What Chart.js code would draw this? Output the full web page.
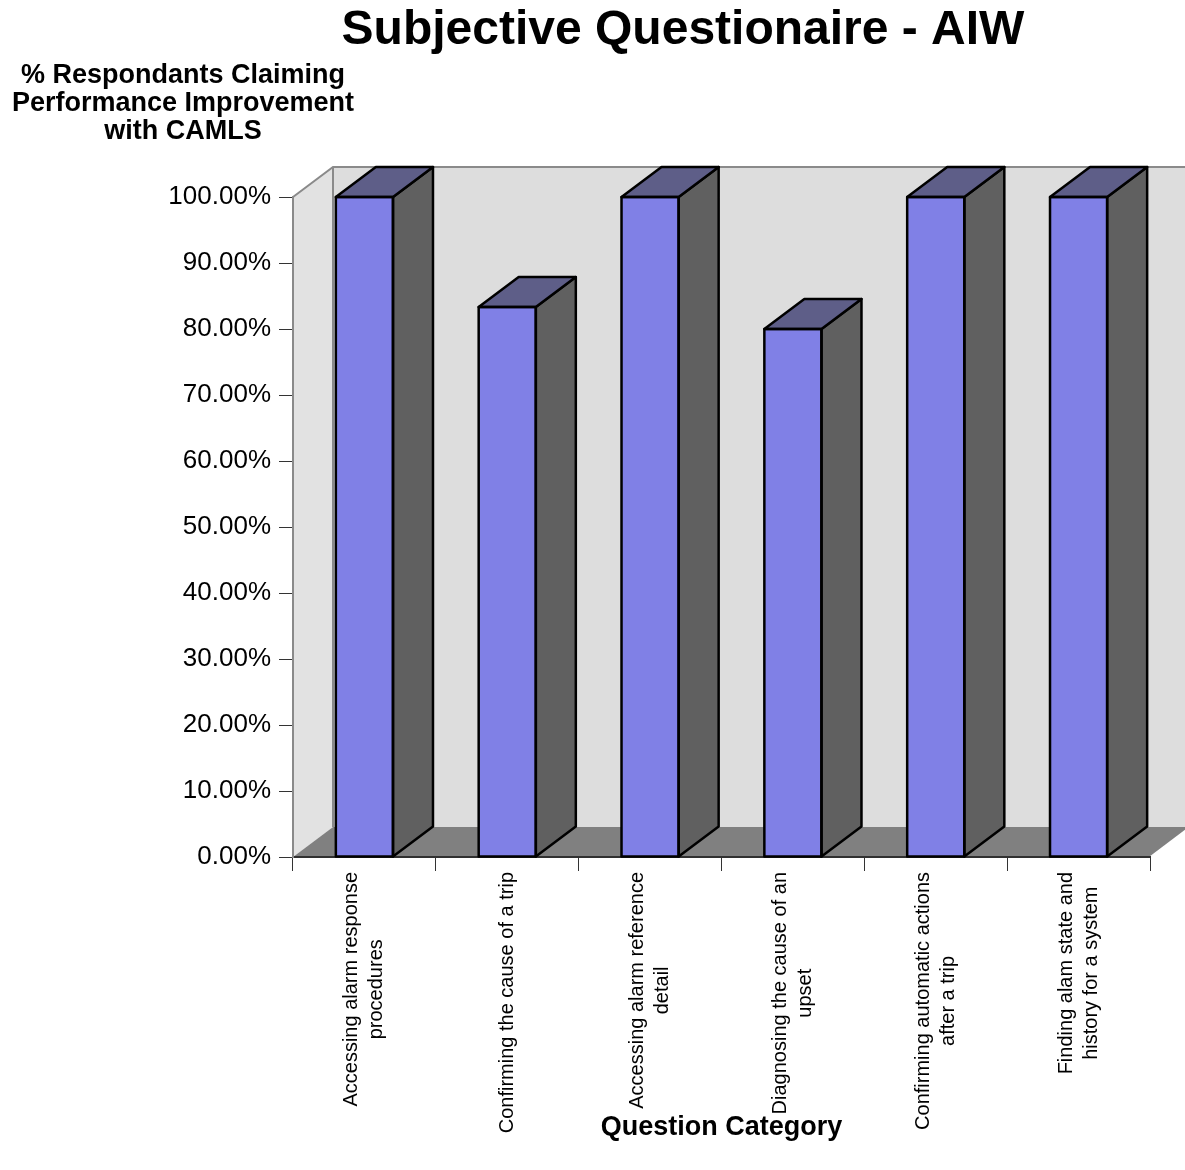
<!DOCTYPE html>
<html>
<head>
<meta charset="utf-8">
<title>Subjective Questionaire - AIW</title>
<script src="https://cdn.jsdelivr.net/npm/chart.js@4.4.1/dist/chart.umd.min.js"></script>
<style>
  body { margin: 0; background: #ffffff; }
</style>
</head>
<body>
<canvas id="myChart" width="1185" height="1170"></canvas>
<script>
var categories = [
    ['Accessing alarm response', 'procedures'],
    ['Confirming the cause of a trip'],
    ['Accessing alarm reference', 'detail'],
    ['Diagnosing the cause of an', 'upset'],
    ['Confirming automatic actions', 'after a trip'],
    ['Finding alam state and', 'history for a system']
];
var percent_improved = [100, 83.33, 100, 80, 100, 100];
var y_tick_labels = ['0.00%', '10.00%', '20.00%', '30.00%', '40.00%', '50.00%',
                     '60.00%', '70.00%', '80.00%', '90.00%', '100.00%'];
var chart_title = 'Subjective Questionaire - AIW';
var y_title = ['% Respondants Claiming', 'Performance Improvement', 'with CAMLS'];
var x_title = 'Question Category';

var font_family = "'Liberation Sans', Arial, sans-serif";
var depth_x = 40;
var depth_y = -30;

function poly(ctx, pts, fill, stroke, lw) {
    ctx.beginPath();
    ctx.moveTo(pts[0][0], pts[0][1]);
    for (var i = 1; i < pts.length; i++) ctx.lineTo(pts[i][0], pts[i][1]);
    ctx.closePath();
    if (fill) { ctx.fillStyle = fill; ctx.fill(); }
    if (stroke) { ctx.strokeStyle = stroke; ctx.lineWidth = lw || 1; ctx.stroke(); }
}

// back wall, side wall and floor behind the bars
var walls = {
    id: 'walls',
    beforeDraw: function(chart) {
        var ctx = chart.ctx;
        var a = chart.chartArea;
        ctx.save();
        ctx.fillStyle = '#dddddd';
        ctx.fillRect(a.left + depth_x, a.top + depth_y, a.right - a.left + 10, a.bottom - a.top);
        poly(ctx, [[a.left, a.top], [a.left + depth_x, a.top + depth_y],
                   [a.left + depth_x, a.bottom + depth_y], [a.left, a.bottom]], '#e2e2e2');
        poly(ctx, [[a.left, a.bottom], [a.left + depth_x, a.bottom + depth_y],
                   [a.right + depth_x, a.bottom + depth_y], [a.right, a.bottom]], '#808080');
        ctx.strokeStyle = '#8a8a8a';
        ctx.lineWidth = 2;
        ctx.beginPath();
        ctx.moveTo(a.left, a.top);
        ctx.lineTo(a.left + depth_x, a.top + depth_y);
        ctx.lineTo(chart.width + 5, a.top + depth_y);
        ctx.moveTo(a.left + depth_x, a.top + depth_y);
        ctx.lineTo(a.left + depth_x, a.bottom + depth_y);
        ctx.stroke();
        ctx.strokeStyle = '#ffffff';
        ctx.lineWidth = 1.5;
        ctx.beginPath();
        ctx.moveTo(a.right, a.bottom);
        ctx.lineTo(a.right + depth_x, a.bottom + depth_y);
        ctx.stroke();
        ctx.restore();
    }
};

// top and side faces of each bar
var bar_depth = {
    id: 'bar_depth',
    afterDatasetsDraw: function(chart) {
        var ctx = chart.ctx;
        var meta = chart.getDatasetMeta(0);
        ctx.save();
        ctx.lineJoin = 'round';
        meta.data.forEach(function(bar) {
            var p = bar.getProps(['x', 'y', 'width', 'base'], true);
            var l = p.x - p.width / 2, r = p.x + p.width / 2;
            var t = p.y, b = p.base;
            poly(ctx, [[r, t], [r + depth_x, t + depth_y], [r + depth_x, b + depth_y], [r, b]], '#606060', '#000000', 2.5);
            poly(ctx, [[l, t], [l + depth_x, t + depth_y], [r + depth_x, t + depth_y], [r, t]], '#5e5e88', '#000000', 2.5);
            ctx.strokeStyle = '#000000';
            ctx.lineWidth = 2.5;
            ctx.strokeRect(l, t, r - l, b - t);
        });
        ctx.restore();
    }
};

// titles and rotated category labels
var texts = {
    id: 'texts',
    afterDraw: function(chart) {
        var ctx = chart.ctx;
        var a = chart.chartArea;
        var xs = chart.scales.x;
        ctx.save();
        ctx.fillStyle = '#000000';
        ctx.textAlign = 'center';
        ctx.textBaseline = 'middle';

        ctx.font = 'bold 48px ' + font_family;
        ctx.fillText(chart_title, 683, 31);

        ctx.font = 'bold 27px ' + font_family;
        y_title.forEach(function(line, i) {
            ctx.fillText(line, 183, 76 + i * 28);
        });
        ctx.fillText(x_title, (a.left + a.right) / 2, 1128);

        ctx.font = '20px ' + font_family;
        categories.forEach(function(lines, i) {
            var cx = xs.getPixelForValue(i);
            var w = 0;
            lines.forEach(function(s) { w = Math.max(w, ctx.measureText(s).width); });
            ctx.save();
            ctx.translate(cx, a.bottom + 15);
            ctx.rotate(-Math.PI / 2);
            lines.forEach(function(s, k) {
                ctx.fillText(s, -w / 2, (k - (lines.length - 1) / 2) * 25);
            });
            ctx.restore();
        });
        ctx.restore();
    }
};

var ctx = document.getElementById('myChart').getContext('2d');
var myChart = new Chart(ctx, {
    type: 'bar',
    data: {
        labels: categories,
        datasets: [{
            data: percent_improved,
            backgroundColor: '#8080e6',
            borderColor: '#000000',
            borderWidth: 0,
            categoryPercentage: 1.0,
            barPercentage: 0.4
        }]
    },
    options: {
        responsive: false,
        animation: false,
        events: [],
        layout: { padding: { top: 197, right: 35, left: 0, bottom: 0 } },
        plugins: {
            legend: { display: false },
            title: { display: false },
            tooltip: { enabled: false }
        },
        scales: {
            x: {
                grid: { drawOnChartArea: false, drawTicks: true, tickLength: 14, color: '#333333', offset: true },
                border: { color: '#303030', width: 2 },
                ticks: { display: false },
                afterFit: function(s) { s.height = 313; }
            },
            y: {
                min: 0,
                max: 100,
                grid: { drawOnChartArea: false, drawTicks: true, tickLength: 14, color: '#333333' },
                border: { color: '#8a8a8a', width: 2 },
                ticks: {
                    stepSize: 10,
                    padding: 8,
                    color: '#000000',
                    font: { family: font_family, size: 26 },
                    callback: function(value, index) { return y_tick_labels[index]; }
                },
                afterFit: function(s) { s.width = 293; }
            }
        }
    },
    plugins: [walls, bar_depth, texts]
});
</script>
</body>
</html>
